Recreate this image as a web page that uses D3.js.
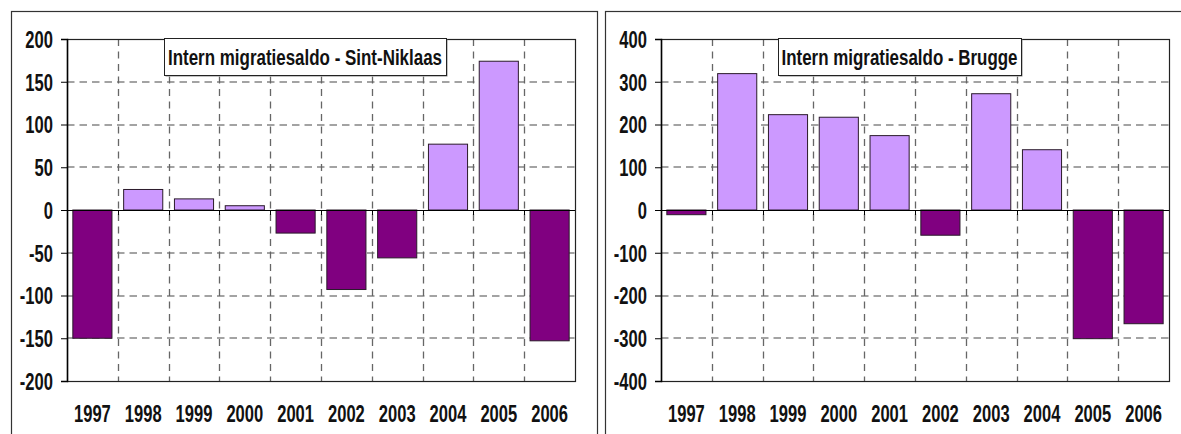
<!DOCTYPE html>
<html>
<head>
<meta charset="utf-8">
<script src="https://cdn.jsdelivr.net/npm/d3@7"></script>
<style>
  body { margin: 0; background: #fff; }
  text { font-family: 'Liberation Sans', Arial, sans-serif; font-weight: bold; fill: #111; }
</style>
</head>
<body>
<svg id="chart" width="1181" height="434"></svg>
<script>
// Data
var years = ['1997', '1998', '1999', '2000', '2001', '2002', '2003', '2004', '2005', '2006'];
var saldoSintNiklaas = [-150, 24, 13, 5, -27, -93, -56, 77, 174, -153];
var saldoBrugge = [-11, 319, 223, 217, 174, -59, 272, 141, -301, -266];
var ticksSintNiklaas = [-200, -150, -100, -50, 0, 50, 100, 150, 200];
var ticksBrugge = [-400, -300, -200, -100, 0, 100, 200, 300, 400];
var titleSintNiklaas = 'Intern migratiesaldo - Sint-Niklaas';
var titleBrugge = 'Intern migratiesaldo - Brugge';

var svg = d3.select('#chart');
var fontSize = 23;

// the original uses a narrow bold face: squeeze glyphs horizontally
function squeeze(sel, k) {
  sel.each(function() {
    var w = this.getComputedTextLength();
    d3.select(this).attr('textLength', w * k).attr('lengthAdjust', 'spacingAndGlyphs');
  });
}

// panel frames
svg.append('rect')
   .attr('x', 11.5).attr('y', 11.5)
   .attr('width', 586).attr('height', 440)
   .attr('fill', 'none').attr('stroke', '#333').attr('stroke-width', 1.2);
svg.append('rect')
   .attr('x', 605.5).attr('y', 11.5)
   .attr('width', 600).attr('height', 440)
   .attr('fill', 'none').attr('stroke', '#333').attr('stroke-width', 1.2);

function drawPanel(left, values, ticks, title, box) {
  var width = 508, height = 342;
  var g = svg.append('g').attr('transform', 'translate(' + left + ',39)');

  var x = d3.scaleBand().domain(years).range([0, width])
            .paddingInner(0.23).paddingOuter(0.115);
  var y = d3.scaleLinear().domain(d3.extent(ticks)).range([height, 0]);

  // horizontal dashed grid
  g.selectAll('.hgrid')
   .data(ticks.filter(function(t) { return t != ticks[0] && t != ticks[ticks.length - 1] && t != 0; }))
   .enter().append('line')
   .attr('x1', 0).attr('x2', width)
   .attr('y1', function(d) { return Math.round(y(d)); })
   .attr('y2', function(d) { return Math.round(y(d)); })
   .attr('stroke', '#858585').attr('stroke-width', 1.6).attr('stroke-dasharray', '7.5,5');

  // vertical dashed grid at category boundaries
  var bounds = years.slice(0, -1).map(function(d) {
    return x(d) + x.bandwidth() + (x.step() - x.bandwidth()) / 2;
  });
  g.selectAll('.vgrid')
   .data(bounds)
   .enter().append('line')
   .attr('x1', function(d) { return Math.round(d) + 0.5; })
   .attr('x2', function(d) { return Math.round(d) + 0.5; })
   .attr('y1', 0).attr('y2', height)
   .attr('stroke', '#666').attr('stroke-width', 1.3).attr('stroke-dasharray', '7,5.5');

  // bars
  g.selectAll('.bar')
   .data(values)
   .enter().append('rect')
   .attr('x', function(d, i) { return x(years[i]); })
   .attr('width', x.bandwidth())
   .attr('y', function(d) { return y(Math.max(0, d)); })
   .attr('height', function(d) { return Math.abs(y(d) - y(0)); })
   .attr('fill', function(d) { return d < 0 ? '#800080' : '#cc99ff'; })
   .attr('stroke', '#2a1a2a').attr('stroke-width', 1);

  // zero line with small ticks
  g.append('line')
   .attr('x1', 0).attr('x2', width)
   .attr('y1', y(0) + 0.5).attr('y2', y(0) + 0.5)
   .attr('stroke', '#000').attr('stroke-width', 1.2);
  g.selectAll('.xtick')
   .data(bounds)
   .enter().append('line')
   .attr('x1', function(d) { return Math.round(d) + 0.5; })
   .attr('x2', function(d) { return Math.round(d) + 0.5; })
   .attr('y1', y(0)).attr('y2', y(0) + 5)
   .attr('stroke', '#000');

  // plot frame
  g.append('rect')
   .attr('x', 0.5).attr('y', 0.5)
   .attr('width', width).attr('height', height)
   .attr('fill', 'none').attr('stroke', '#222').attr('stroke-width', 1.2);

  // y axis
  var yAxis = g.append('g')
     .call(d3.axisLeft(y).tickValues(ticks).tickSize(6).tickPadding(8)
       .tickFormat(function(d) { return String(d); }));
  yAxis.select('.domain').attr('stroke', '#000').attr('stroke-width', 1.5);
  yAxis.selectAll('.tick line').attr('stroke', '#000');
  yAxis.selectAll('text').attr('font-size', fontSize).attr('fill', '#111')
       .attr('font-family', null).attr('dy', '0.36em');
  squeeze(yAxis.selectAll('text'), 0.72);

  // x labels
  var xl = g.selectAll('.xlab')
   .data(years)
   .enter().append('text')
   .attr('x', function(d) { return x(d) + x.bandwidth() / 2; })
   .attr('y', height + 41)
   .attr('text-anchor', 'middle')
   .attr('font-size', fontSize)
   .text(function(d) { return d; });
  squeeze(xl, 0.72);

  // title box
  g.append('rect')
   .attr('x', box[0] + 1.5).attr('y', -1 + 1.5)
   .attr('width', box[1] - box[0]).attr('height', 37)
   .attr('fill', '#888');
  g.append('rect')
   .attr('x', box[0] + 0.5).attr('y', -1 + 0.5)
   .attr('width', box[1] - box[0]).attr('height', 37)
   .attr('fill', '#fff').attr('stroke', '#222');
  g.append('text')
   .attr('x', (box[0] + box[1]) / 2)
   .attr('y', 25.5)
   .attr('text-anchor', 'middle')
   .attr('font-size', 22)
   .attr('textLength', box[2])
   .attr('lengthAdjust', 'spacingAndGlyphs')
   .text(title);
}

drawPanel(67, saldoSintNiklaas, ticksSintNiklaas, titleSintNiklaas, [97, 379, 274]);
drawPanel(661, saldoBrugge, ticksBrugge, titleBrugge, [117, 360, 236]);
</script>
</body>
</html>
